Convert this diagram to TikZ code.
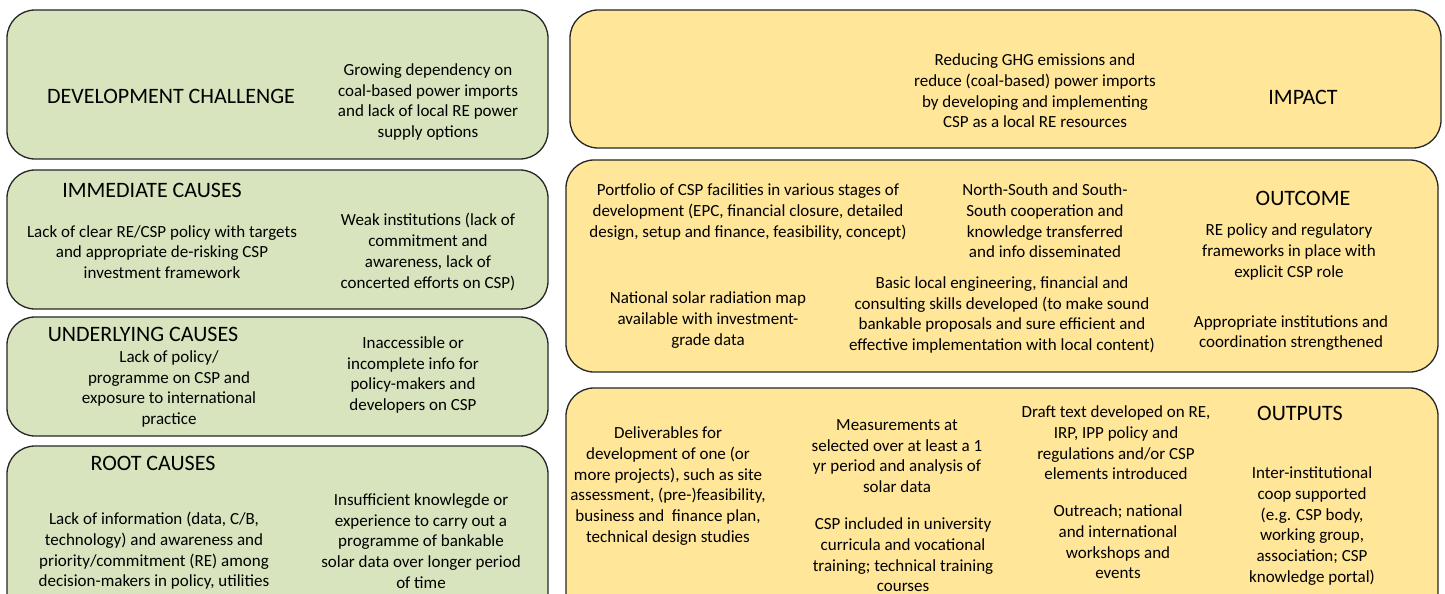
\documentclass[tikz,border=0pt]{standalone}
\usepackage{fontspec}
\setmainfont{Carlito}
\definecolor{grn}{HTML}{D7E4BD}
\definecolor{ylw}{HTML}{FFE699}
\definecolor{edge}{HTML}{262626}
\begin{document}
\begin{tikzpicture}[x=1pt,y=-1pt,
  gbox/.style={draw=edge,line width=1.3pt,fill=grn,rounded corners=28pt},
  ybox/.style={draw=edge,line width=1.3pt,fill=ylw,rounded corners=28pt},
  txt/.style={align=center,inner sep=0pt,font=\fontsize{17}{20.7}\selectfont},
  head/.style={align=center,inner sep=0pt,font=\fontsize{22}{26}\selectfont}]
\useasboundingbox (0,0) rectangle (1445,594);
\clip (0,0) rectangle (1445,594);
% left column
\draw[gbox] (7,10) rectangle (548,159);
\draw[gbox] (7,170) rectangle (548,309);
\draw[gbox] (7,317) rectangle (548,436);
\draw[gbox] (7,446) rectangle (548,640);
% right column
\draw[ybox] (570,10) rectangle (1441,148);
\draw[ybox] (566,160) rectangle (1438,372);
\draw[ybox] (566,388) rectangle (1438,640);

% Development challenge
\node[head] (dch) at (171,96) {DEVELOPMENT CHALLENGE};
\node[txt] (dct) at (428,102) {Growing dependency on\\coal-based power imports\\and lack of local RE power\\supply options};
% Immediate causes
\node[head] (ich) at (152,190) {IMMEDIATE CAUSES};
\node[txt] (icl) at (162,252) {Lack of clear RE/CSP policy with targets\\and appropriate de-risking CSP\\investment framework};
\node[txt] (icr) at (428,252) {Weak institutions (lack of\\commitment and\\awareness, lack of\\concerted efforts on CSP)};
% Underlying causes
\node[head] (uch) at (143,334) {UNDERLYING CAUSES};
\node[txt] (ucl) at (169,389) {Lack of policy/\\programme on CSP and\\exposure to international\\practice};
\node[txt] (ucr) at (413,375) {Inaccessible or\\incomplete info for\\policy-makers and\\developers on CSP};
% Root causes
\node[head] (rch) at (153,463) {ROOT CAUSES};
\node[txt] (rcl) at (154,551) {Lack of information (data, C/B,\\technology) and awareness and\\priority/commitment (RE) among\\decision-makers in policy, utilities};
\node[txt] (rcr) at (421,541) {Insufficient knowlegde or\\experience to carry out a\\programme of bankable\\solar data over longer period\\of time};

% Impact
\node[txt] (imt) at (1035,91) {Reducing GHG emissions and\\reduce (coal-based) power imports\\by developing and implementing\\CSP as a local RE resources};
\node[head] (imh) at (1303,97) {IMPACT};
% Outcome
\node[txt] (oc1) at (748,212) {Portfolio of CSP facilities in various stages of\\development (EPC, financial closure, detailed\\design, setup and finance, feasibility, concept)};
\node[txt] (oc2) at (1045,221) {North-South and South-\\South cooperation and\\knowledge transferred\\and info disseminated};
\node[head] (och) at (1303,198) {OUTCOME};
\node[txt] (oc3) at (1289,252) {RE policy and regulatory\\frameworks in place with\\explicit CSP role};
\node[txt] (oc4) at (708,320) {National solar radiation map\\available with investment-\\grade data};
\node[txt] (oc5) at (1002,315) {Basic local engineering, financial and\\consulting skills developed (to make sound\\bankable proposals and sure efficient and\\effective implementation with local content)};
\node[txt] (oc6) at (1291,333) {Appropriate institutions and\\coordination strengthened};
% Outputs
\node[txt] (op1) at (668,486) {Deliverables for\\development of one (or\\more projects), such as site\\assessment, (pre-)feasibility,\\business and\ \ finance plan,\\technical design studies};
\node[txt] (op2) at (897,456) {Measurements at\\selected over at least a 1\\yr period and analysis of\\solar data};
\node[txt] (op3) at (903,555) {CSP included in university\\curricula and vocational\\training; technical training\\courses};
\node[txt] (op4) at (1116,443) {Draft text developed on RE,\\IRP, IPP policy and\\regulations and/or CSP\\elements introduced};
\node[head] (oph) at (1300,413) {OUTPUTS};
\node[txt] (op5) at (1118,542) {Outreach; national\\and international\\workshops and\\events};
\node[txt] (op6) at (1312,526) {Inter-institutional\\coop supported\\(e.g. CSP body,\\working group,\\association; CSP\\knowledge portal)};
\end{tikzpicture}
\end{document}
